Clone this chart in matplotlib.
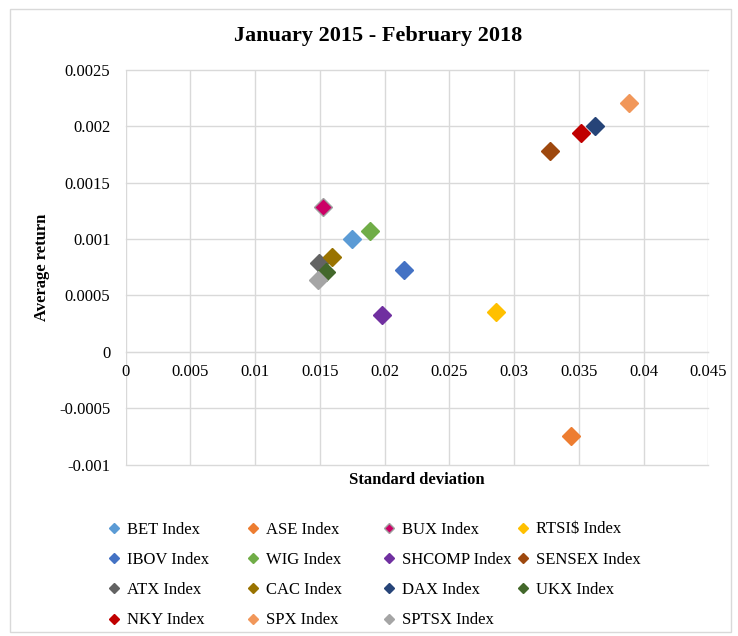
import matplotlib.pyplot as plt
from matplotlib.patches import Rectangle

plt.rcParams['font.family'] = ['Liberation Serif', 'DejaVu Serif']

# data
names = ["BET Index", "ASE Index", "BUX Index", "RTSI$ Index",
         "IBOV Index", "WIG Index", "SHCOMP Index", "SENSEX Index",
         "ATX Index", "CAC Index", "DAX Index", "UKX Index",
         "NKY Index", "SPX Index", "SPTSX Index"]
std_dev = [0.01747, 0.03441, 0.01522, 0.02859,
           0.02153, 0.01888, 0.01978, 0.03279,
           0.01496, 0.01592, 0.03621, 0.01546,
           0.03519, 0.03884, 0.01488]
avg_ret = [0.00100, -0.00074, 0.00128, 0.000357,
           0.000726, 0.00107, 0.000327, 0.00178,
           0.000785, 0.00084, 0.00200, 0.00071,
           0.001935, 0.00220, 0.00064]
colors = ['#5B9BD5', '#ED7D31', '#CC0066', '#FFC000',
          '#4472C4', '#70AD47', '#7030A0', '#9E480E',
          '#636363', '#997300', '#264478', '#43682B',
          '#C00000', '#F1975A', '#A5A5A5']

xticks = [0, 0.005, 0.01, 0.015, 0.02, 0.025, 0.03, 0.035, 0.04, 0.045]
xtick_labels = ["0", "0.005", "0.01", "0.015", "0.02", "0.025", "0.03", "0.035", "0.04", "0.045"]
yticks = [-0.001, -0.0005, 0, 0.0005, 0.001, 0.0015, 0.002, 0.0025]
ytick_labels = ["-0.001", "-0.0005", "0", "0.0005", "0.001", "0.0015", "0.002", "0.0025"]

grid_col = '#D9D9D9'

fig = plt.figure(figsize=(7.38, 6.36), dpi=100)
ax = fig.add_axes([0.1703, 0.2689, 0.7895, 0.6218])

# outer chart border
fig.patches.append(Rectangle((9.5 / 738, 4 / 636), 721.5 / 738, 623.5 / 636,
                             transform=fig.transFigure, fill=False,
                             edgecolor=grid_col, linewidth=1))

handles = []
for name, x, y, c in zip(names, std_dev, avg_ret, colors):
    edge = '#A0A0A0' if name == "BUX Index" else c
    h, = ax.plot(x, y, linestyle='none', marker='D', markersize=8.7,
                 markerfacecolor=c, markeredgecolor=edge, markeredgewidth=1,
                 label=name, zorder=3)
    handles.append(h)

ax.set_xlim(0, 0.045)
ax.set_ylim(-0.001, 0.0025)
ax.set_xticks(xticks, xtick_labels)
ax.set_yticks(yticks, ytick_labels)
ax.grid(True, color=grid_col, linewidth=1)
ax.set_axisbelow(True)
for gl in ax.get_ygridlines() + ax.get_xgridlines():
    gl.set_clip_on(False)

for s in ['top', 'right', 'left']:
    ax.spines[s].set_visible(False)
ax.spines['bottom'].set_position(('data', 0))
ax.spines['bottom'].set_color(grid_col)
ax.tick_params(axis='both', length=0, labelsize=12, colors='black')
ax.tick_params(axis='x', pad=9)
ax.tick_params(axis='y', pad=11)

fig.suptitle("January 2015 - February 2018", fontsize=16, fontweight='bold',
             x=378 / 738, y=1 - 35.5 / 636, va='center')
ax.set_xlabel("Standard deviation", fontsize=12, fontweight='bold')
ax.xaxis.set_label_coords(0.5, -0.018)
ax.set_ylabel("Average return", fontsize=12, fontweight='bold')
ax.yaxis.set_label_coords(-0.13, 0.5)

# legend: four fixed-width columns, entries filled row by row
col_x = [107.3, 246.3, 382.3, 516.3]
for c in range(4):
    fig.legend(handles[c::4], names[c::4], loc='upper left',
               bbox_to_anchor=(col_x[c] / 738, 1 - 521.5 / 636),
               frameon=False, fontsize=12, markerscale=0.53,
               handlelength=0.8, handletextpad=0.38, labelspacing=0.86,
               borderpad=0, borderaxespad=0)

fig.savefig("out.png", dpi=100)
